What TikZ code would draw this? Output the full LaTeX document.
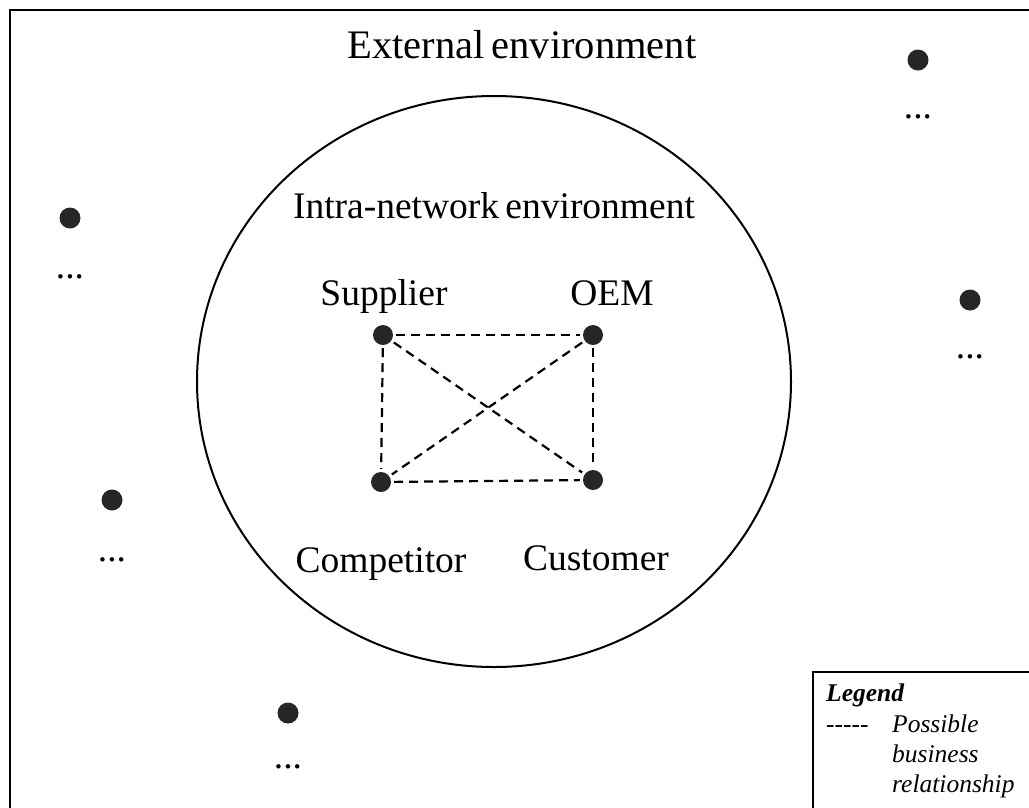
\documentclass[tikz,border=0pt]{standalone}
\usepackage{fontspec}
\setmainfont{Liberation Serif}
\usetikzlibrary{shapes.geometric}
\tikzset{
  dotnode/.style={circle,fill=black!85,minimum size=20pt,inner sep=0pt},
  rel/.style={line width=2.2pt,dash pattern=on 9pt off 6pt,shorten <=3pt,shorten >=3pt},
  big/.style={font=\fontsize{37.5}{44}\selectfont,inner sep=0pt},
  leg/.style={font=\fontsize{25.5}{30}\selectfont\itshape,inner sep=0pt,anchor=base west},
}
\begin{document}
\begin{tikzpicture}[x=1pt,y=-1pt]
\useasboundingbox (0,0) rectangle (1029,807);
\clip (0,0) rectangle (1029,807);
\fill[white] (0,0) rectangle (1029,807);
% frame
\draw[line width=2.6pt] (10,10) rectangle (1045,825);
% circle
\node[draw,ellipse,line width=2pt,minimum width=594pt,minimum height=571pt,inner sep=0pt] (env) at (494,381.5) {};
% titles
\node[big,anchor=base,font=\fontsize{40.5}{48}\selectfont] (ext) at (522,58) {External\,environment};
\node[big,anchor=base] (intra) at (494,218) {Intra-network\,environment};
% inner nodes
\node[dotnode] (sup) at (383,335) {};
\node[dotnode] (oem) at (593,335) {};
\node[dotnode] (comp) at (381,482) {};
\node[dotnode] (cust) at (593,480) {};
\node[big,anchor=base] (supl) at (384,305) {Supplier};
\node[big,anchor=base] (oeml) at (612,305) {OEM};
\node[big,anchor=base] (compl) at (381,572) {Competitor};
\node[big,anchor=base] (custl) at (596,570) {Customer};
\draw[rel] (sup) -- (oem);
\draw[rel] (sup) -- (comp);
\draw[rel] (oem) -- (cust);
\draw[rel] (comp) -- (cust);
\draw[rel] (sup) -- (cust);
\draw[rel] (oem) -- (comp);
% outer nodes
\node[dotnode,minimum size=21pt] (d1) at (918,60) {};
\node[dotnode,minimum size=21pt] (d2) at (70,218) {};
\node[dotnode,minimum size=21pt] (d3) at (970,300) {};
\node[dotnode,minimum size=21pt] (d4) at (112,500) {};
\node[dotnode,minimum size=21pt] (d5) at (288,713) {};
\node[big,anchor=base] (e1) at (918,118) {...};
\node[big,anchor=base] (e2) at (70,278) {...};
\node[big,anchor=base] (e3) at (970,358) {...};
\node[big,anchor=base] (e4) at (112,561) {...};
\node[big,anchor=base] (e5) at (288,768) {...};
% legend
\draw[line width=1.6pt] (813,672) rectangle (1045,825);
\node[leg,font=\fontsize{25.5}{30}\selectfont\bfseries\itshape] (legt) at (826,701) {Legend};
\node[leg] (legd) at (826,732) {-{}-{}-{}-{}-};
\node[leg] (leg1) at (892,732) {Possible};
\node[leg] (leg2) at (892,762) {business};
\node[leg] (leg3) at (892,792) {relationship};
\end{tikzpicture}
\end{document}
